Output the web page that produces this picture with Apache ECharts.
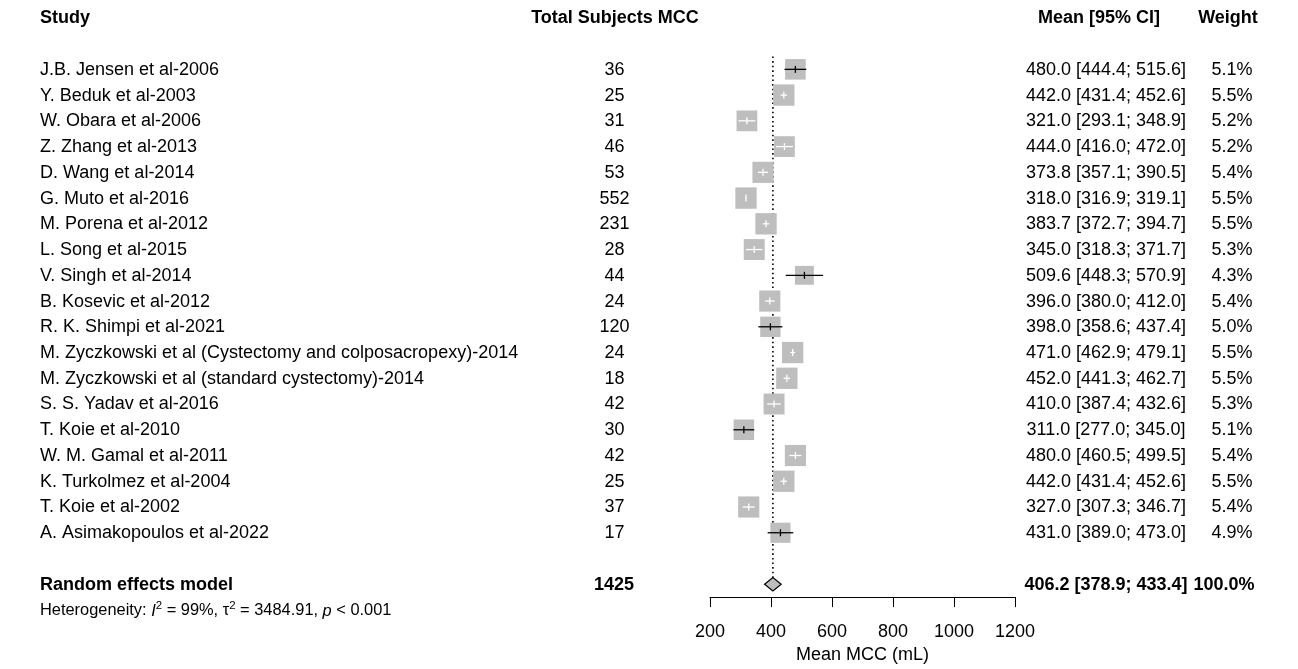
<!DOCTYPE html>
<html>
<head>
<meta charset="utf-8">
<title>Forest plot – Mean MCC</title>
<script src="https://cdn.jsdelivr.net/npm/echarts@6/dist/echarts.min.js"></script>
<style>
  html, body { margin: 0; padding: 0; background: #fff; }
  #chart { width: 1298px; height: 669px; }
</style>
</head>
<body>
<div id="chart"></div>
<script>
// ---- study data ----
const studies = [
  'J.B. Jensen et al-2006',
  'Y. Beduk et al-2003',
  'W. Obara et al-2006',
  'Z. Zhang et al-2013',
  'D. Wang et al-2014',
  'G. Muto et al-2016',
  'M. Porena et al-2012',
  'L. Song et al-2015',
  'V. Singh et al-2014',
  'B. Kosevic et al-2012',
  'R. K. Shimpi et al-2021',
  'M. Zyczkowski et al (Cystectomy and colposacropexy)-2014',
  'M. Zyczkowski et al (standard cystectomy)-2014',
  'S. S. Yadav et al-2016',
  'T. Koie et al-2010',
  'W. M. Gamal et al-2011',
  'K. Turkolmez et al-2004',
  'T. Koie et al-2002',
  'A. Asimakopoulos et al-2022'
];
const subjects = [36, 25, 31, 46, 53, 552, 231, 28, 44, 24, 120, 24, 18, 42, 30, 42, 25, 37, 17];
const means   = [480.0, 442.0, 321.0, 444.0, 373.8, 318.0, 383.7, 345.0, 509.6, 396.0, 398.0, 471.0, 452.0, 410.0, 311.0, 480.0, 442.0, 327.0, 431.0];
const lowers  = [444.4, 431.4, 293.1, 416.0, 357.1, 316.9, 372.7, 318.3, 448.3, 380.0, 358.6, 462.9, 441.3, 387.4, 277.0, 460.5, 431.4, 307.3, 389.0];
const uppers  = [515.6, 452.6, 348.9, 472.0, 390.5, 319.1, 394.7, 371.7, 570.9, 412.0, 437.4, 479.1, 462.7, 432.6, 345.0, 499.5, 452.6, 346.7, 473.0];
const weights = [5.1, 5.5, 5.2, 5.2, 5.4, 5.5, 5.5, 5.3, 4.3, 5.4, 5.0, 5.5, 5.5, 5.3, 5.1, 5.4, 5.5, 5.4, 4.9];

// pooled (random effects) estimate
const pooledLabel = 'Random effects model';
const pooledTotal = 1425;
const pooledMean = 406.2;
const pooledLower = 378.9;
const pooledUpper = 433.4;
const pooledWeight = 100.0;

// column headers and axis
const headers = ['Study', 'Total Subjects MCC', 'Mean [95% CI]', 'Weight'];
const axisTitle = 'Mean MCC (mL)';
const xTicks = [200, 400, 600, 800, 1000, 1200];

// ---- layout ----
const FONT = '"Liberation Sans", Arial, Helvetica, sans-serif';
const POOLED_ROW = studies.length + 1;
const HET_ROW = POOLED_ROW + 1;
const HEADER_ROW = -2;

const fmt1 = v => v.toFixed(1);
const ciText = (m, l, u) => fmt1(m) + ' [' + fmt1(l) + '; ' + fmt1(u) + ']';

// table rows: each row is a list of cells {text, x, align, bold}
const tableRows = [];
tableRows.push({ row: HEADER_ROW, cells: [
  { text: headers[0], x: 40, align: 'left', bold: true },
  { text: headers[1], x: 615, align: 'center', bold: true },
  { text: headers[2], x: 1099, align: 'center', bold: true },
  { text: headers[3], x: 1228, align: 'center', bold: true }
]});
studies.forEach((name, i) => {
  tableRows.push({ row: i, cells: [
    { text: name, x: 40, align: 'left' },
    { text: String(subjects[i]), x: 614.5, align: 'center' },
    { text: ciText(means[i], lowers[i], uppers[i]), x: 1106, align: 'center' },
    { text: fmt1(weights[i]) + '%', x: 1232, align: 'center' }
  ]});
});
tableRows.push({ row: POOLED_ROW, cells: [
  { text: pooledLabel, x: 40, align: 'left', bold: true },
  { text: String(pooledTotal), x: 614, align: 'center', bold: true },
  { text: ciText(pooledMean, pooledLower, pooledUpper), x: 1106, align: 'center', bold: true },
  { text: fmt1(pooledWeight) + '%', x: 1224, align: 'center', bold: true }
]});
tableRows.push({ row: HET_ROW, het: true });

const chart = echarts.init(document.getElementById('chart'), null, { renderer: 'canvas' });

const option = {
  animation: false,
  backgroundColor: '#ffffff',
  grid: { left: 710, width: 305, top: 5, height: 594, containLabel: false },
  xAxis: {
    type: 'value',
    min: xTicks[0],
    max: xTicks[xTicks.length - 1],
    interval: 200,
    splitLine: { show: false },
    axisLine: { show: true, onZero: false, lineStyle: { color: '#000', width: 1 } },
    axisTick: { show: true, inside: false, length: 10, lineStyle: { color: '#000', width: 1 } },
    axisLabel: { color: '#000', fontSize: 18, fontFamily: FONT, margin: 26, formatter: v => String(v) },
    name: axisTitle,
    nameLocation: 'middle',
    nameGap: 42,
    nameTextStyle: { color: '#000', fontSize: 18, fontFamily: FONT }
  },
  yAxis: { type: 'value', inverse: true, min: -2.5, max: 20.5, show: false },
  series: [
    {
      // reference line at the pooled mean and the pooled diamond
      type: 'custom',
      z: 1,
      data: [[pooledMean, POOLED_ROW, pooledLower, pooledUpper]],
      renderItem: function (params, api) {
        const m = api.value(0), r = api.value(1);
        const c = api.coord([m, r]);
        const l = api.coord([api.value(2), r]);
        const u = api.coord([api.value(3), r]);
        const top = api.coord([m, -0.5]);
        const hh = 6.7;
        return {
          type: 'group',
          children: [
            {
              type: 'line',
              shape: { x1: c[0], y1: top[1], x2: c[0], y2: c[1] - hh },
              style: { stroke: '#000', lineWidth: 1.6, lineDash: [1.6, 3] }
            },
            {
              type: 'polygon',
              shape: { points: [[l[0], c[1]], [c[0], c[1] - hh], [u[0], c[1]], [c[0], c[1] + hh]] },
              style: { fill: '#bebebe', stroke: '#000', lineWidth: 1.2 }
            }
          ]
        };
      }
    },
    {
      // study squares with confidence intervals
      type: 'custom',
      z: 2,
      data: studies.map((s, i) => [means[i], i, lowers[i], uppers[i], weights[i]]),
      renderItem: function (params, api) {
        const m = api.value(0), r = api.value(1);
        const c = api.coord([m, r]);
        const l = api.coord([api.value(2), r]);
        const u = api.coord([api.value(3), r]);
        const s = 9.1 * Math.sqrt(api.value(4));
        const inside = (u[0] - l[0]) < s;
        const col = inside ? '#ffffff' : '#000000';
        return {
          type: 'group',
          children: [
            { type: 'rect', shape: { x: c[0] - s / 2, y: c[1] - s / 2, width: s, height: s }, style: { fill: '#bebebe' } },
            { type: 'line', shape: { x1: l[0], y1: c[1], x2: u[0], y2: c[1] }, style: { stroke: col, lineWidth: 1.3 } },
            { type: 'line', shape: { x1: c[0], y1: c[1] - 3.5, x2: c[0], y2: c[1] + 3.5 }, style: { stroke: col, lineWidth: 1.3 } }
          ]
        };
      }
    },
    {
      // text columns
      type: 'custom',
      z: 3,
      data: tableRows.map(t => [xTicks[0], t.row]),
      renderItem: function (params, api) {
        const t = tableRows[params.dataIndex];
        const y = api.coord([api.value(0), api.value(1)])[1];
        if (t.het) {
          return {
            type: 'text',
            x: 40,
            y: y + 1,
            style: {
              text: 'Heterogeneity: {i|I}{sup|2} = 99%, τ{sup|2} = 3484.91, {i|p} < 0.001',
              fill: '#000',
              fontSize: 16.4,
              fontFamily: FONT,
              lineHeight: 22,
              align: 'left',
              verticalAlign: 'middle',
              rich: {
                i: { fontStyle: 'italic', fontSize: 16.4, fontFamily: FONT, lineHeight: 22, verticalAlign: 'middle' },
                sup: { fontSize: 11.5, fontFamily: FONT, lineHeight: 12, verticalAlign: 'top' }
              }
            }
          };
        }
        return {
          type: 'group',
          children: t.cells.map(cell => ({
            type: 'text',
            x: cell.x,
            y: y + 0.5,
            style: {
              text: cell.text,
              fill: '#000',
              fontSize: 18,
              fontWeight: cell.bold ? 'bold' : 'normal',
              fontFamily: FONT,
              align: cell.align,
              verticalAlign: 'middle'
            }
          }))
        };
      }
    }
  ]
};

chart.setOption(option);
</script>
</body>
</html>
